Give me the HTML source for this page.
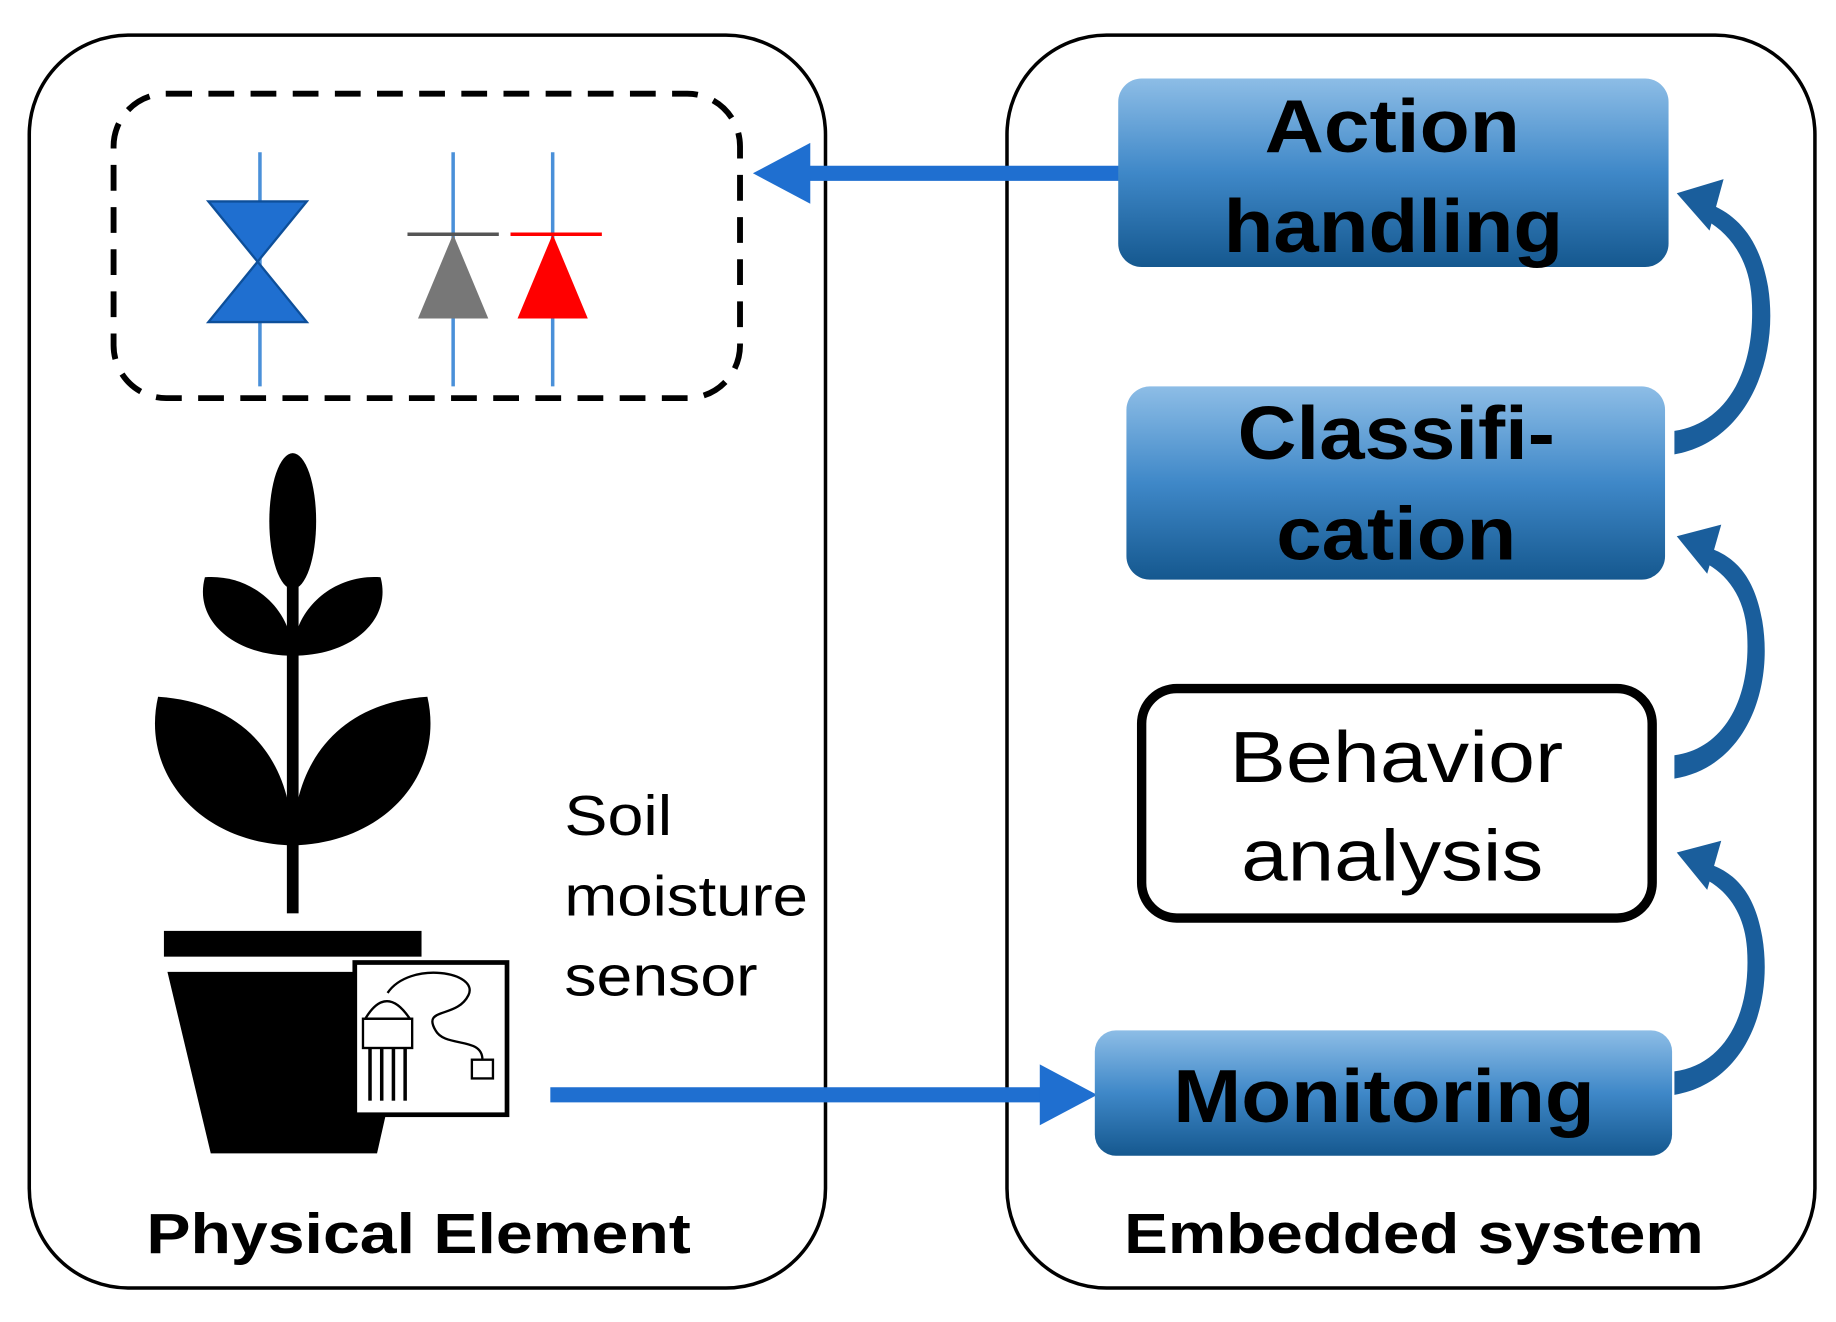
<!DOCTYPE html>
<html><head><meta charset="utf-8"><style>
html,body{margin:0;padding:0;background:#fff}
svg{display:block}
text{font-family:"Liberation Sans",Arial,sans-serif}
</style></head><body>
<svg width="1836" height="1322" viewBox="0 0 1568 1129" xmlns="http://www.w3.org/2000/svg">
<defs>
<linearGradient id="g" x1="0" y1="0" x2="0" y2="1">
<stop offset="0" stop-color="#8dbde6"/><stop offset="0.5" stop-color="#3f88c8"/><stop offset="1" stop-color="#15588f"/>
</linearGradient>
</defs>
<rect x="0" y="0" width="1568" height="1129" fill="#fff"/>
<rect x="25" y="30" width="680" height="1070" rx="85" fill="none" stroke="#000" stroke-width="3"/>
<rect x="860" y="30" width="690" height="1070" rx="85" fill="none" stroke="#000" stroke-width="3"/>
<rect x="97" y="80" width="535" height="260" rx="45" fill="none" stroke="#000" stroke-width="5" stroke-dasharray="22,14"/>
<line x1="222" y1="130" x2="222" y2="330" stroke="#4a90d9" stroke-width="3"/>
<polygon points="178,172 262,172 178,275 262,275" fill="#1f6fd0" stroke="#0d4f9a" stroke-width="2"/>
<line x1="387" y1="130" x2="387" y2="330" stroke="#4a90d9" stroke-width="3"/>
<polygon points="387,200 357,272 417,272" fill="#777"/>
<line x1="348" y1="200" x2="426" y2="200" stroke="#555" stroke-width="3"/>
<line x1="472" y1="130" x2="472" y2="330" stroke="#4a90d9" stroke-width="3"/>
<polygon points="472,200 442,272 502,272" fill="#f00"/>
<line x1="436" y1="200" x2="514" y2="200" stroke="#f00" stroke-width="3"/>
<line x1="958" y1="148" x2="685" y2="148" stroke="#1f6fd0" stroke-width="13"/>
<polygon points="643,148 692,122 692,174" fill="#1f6fd0"/>
<line x1="470" y1="935" x2="890" y2="935" stroke="#1f6fd0" stroke-width="13"/>
<polygon points="937,935 888,909 888,961" fill="#1f6fd0"/>
<rect x="245" y="395" width="10" height="385" fill="#000"/>
<ellipse cx="250" cy="445" rx="20" ry="58" fill="#000"/>
<path d="M250,560 C200,560 165,530 175,493 C215,490 250,520 250,560Z" fill="#000"/>
<path d="M250,560 C300,560 335,530 325,493 C285,490 250,520 250,560Z" fill="#000"/>
<path d="M250,722 C170,720 120,660 135,595 C210,600 250,650 250,722Z" fill="#000"/>
<path d="M250,722 C330,720 380,660 365,595 C290,600 250,650 250,722Z" fill="#000"/>
<rect x="140" y="795" width="220" height="22" fill="#000"/>
<polygon points="143,830 357,830 322,985 180,985" fill="#000"/>
<rect x="303" y="822" width="130" height="130" fill="#fff" stroke="#000" stroke-width="4"/>
<path d="M312,870 Q330,840 350,870 Z" fill="none" stroke="#000" stroke-width="2"/>
<rect x="310" y="870" width="42" height="25" fill="none" stroke="#000" stroke-width="2"/>
<line x1="316" y1="895" x2="316" y2="940" stroke="#000" stroke-width="3"/>
<line x1="326" y1="895" x2="326" y2="940" stroke="#000" stroke-width="3"/>
<line x1="336" y1="895" x2="336" y2="940" stroke="#000" stroke-width="3"/>
<line x1="346" y1="895" x2="346" y2="940" stroke="#000" stroke-width="3"/>
<path d="M331,848 C350,820 410,830 400,850 C390,870 360,860 372,880 C380,895 412,885 412,905" fill="none" stroke="#000" stroke-width="2"/>
<rect x="403" y="905" width="18" height="16" fill="none" stroke="#000" stroke-width="2"/>
<text x="482" y="713" font-size="48" textLength="92" lengthAdjust="spacingAndGlyphs">Soil</text>
<text x="482" y="782" font-size="48" textLength="208" lengthAdjust="spacingAndGlyphs">moisture</text>
<text x="482" y="850" font-size="48" textLength="165" lengthAdjust="spacingAndGlyphs">sensor</text>
<text x="125" y="1070" font-size="48" font-weight="bold" textLength="465" lengthAdjust="spacingAndGlyphs">Physical  Element</text>
<text x="960" y="1070" font-size="48" font-weight="bold" textLength="495" lengthAdjust="spacingAndGlyphs">Embedded  system</text>
<rect x="955" y="67" width="470" height="161" rx="20" fill="url(#g)"/>
<text x="1080" y="130" font-size="64" font-weight="bold" textLength="218" lengthAdjust="spacingAndGlyphs">Action</text>
<text x="1045" y="215" font-size="64" font-weight="bold" textLength="290" lengthAdjust="spacingAndGlyphs">handling</text>
<rect x="962" y="330" width="460" height="165" rx="20" fill="url(#g)"/>
<text x="1057" y="392" font-size="64" font-weight="bold" textLength="271" lengthAdjust="spacingAndGlyphs">Classifi-</text>
<text x="1090" y="478" font-size="64" font-weight="bold" textLength="205" lengthAdjust="spacingAndGlyphs">cation</text>
<rect x="975" y="588" width="436" height="196" rx="30" fill="#fff" stroke="#000" stroke-width="8"/>
<text x="1050" y="668" font-size="62" textLength="285" lengthAdjust="spacingAndGlyphs">Behavior</text>
<text x="1060" y="752" font-size="62" textLength="258" lengthAdjust="spacingAndGlyphs">analysis</text>
<rect x="935" y="880" width="493" height="107" rx="18" fill="url(#g)"/>
<text x="1002" y="958" font-size="64" font-weight="bold" textLength="360" lengthAdjust="spacingAndGlyphs">Monitoring</text>
<g fill="#1a5e9c">
<path d="M1430,935 C1490,925 1515,860 1505,800 C1498,760 1480,745 1460,738 L1455,750 C1475,760 1490,780 1492,810 C1496,870 1470,910 1430,915 Z"/>
<polygon points="1432,728 1470,718 1458,760"/>
<path d="M1430,665 C1490,655 1515,590 1505,530 C1498,490 1480,475 1460,468 L1455,480 C1475,490 1490,510 1492,540 C1496,600 1470,640 1430,645 Z"/>
<polygon points="1432,458 1470,448 1458,490"/>
<path d="M1430,388 C1490,378 1520,310 1510,245 C1503,205 1485,185 1462,175 L1457,188 C1478,200 1494,222 1496,255 C1500,320 1472,362 1430,368 Z"/>
<polygon points="1432,165 1472,153 1460,197"/>
</g>
</svg>
</body></html>
